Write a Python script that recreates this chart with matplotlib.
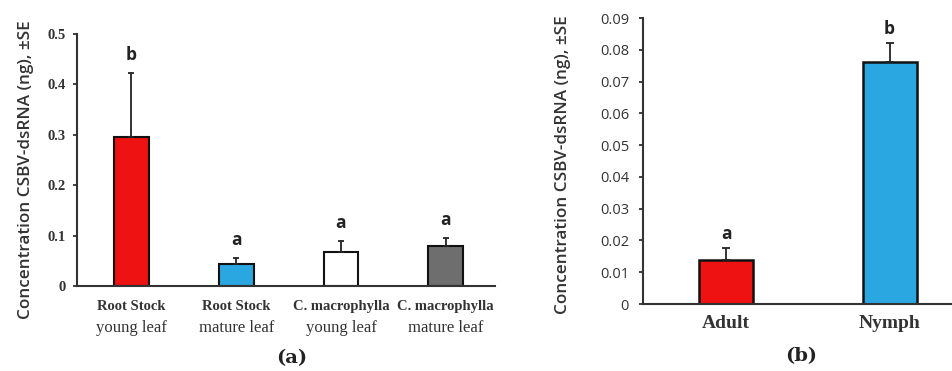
import matplotlib
matplotlib.use("Agg")
import matplotlib.pyplot as plt
import matplotlib.transforms as mtransforms

# ---- data ----
a_top = ["Root Stock", "Root Stock", "C. macrophylla", "C. macrophylla"]
a_bottom = ["young leaf", "mature leaf", "young leaf", "mature leaf"]
a_values = [0.296, 0.044, 0.067, 0.079]
a_errors = [0.127, 0.012, 0.022, 0.016]
a_letters = ["b", "a", "a", "a"]
a_colors = ["#ee1212", "#2aa7e0", "#ffffff", "#6e6e6e"]
a_yticks = [0, 0.1, 0.2, 0.3, 0.4, 0.5]
a_yticklabels = ["0", "0.1", "0.2", "0.3", "0.4", "0.5"]

b_categories = ["Adult", "Nymph"]
b_values = [0.0140, 0.0762]
b_errors = [0.0037, 0.0059]
b_letters = ["a", "b"]
b_colors = ["#ee1212", "#2aa7e0"]
b_yticks = [0, 0.01, 0.02, 0.03, 0.04, 0.05, 0.06, 0.07, 0.08, 0.09]
b_yticklabels = ["0", "0.01", "0.02", "0.03", "0.04", "0.05", "0.06", "0.07", "0.08", "0.09"]

ylabel = "Concentration CSBV-dsRNA (ng), \u00b1SE"

W, H = 953, 371
fig = plt.figure(figsize=(W / 100, H / 100), dpi=100)
fig.patch.set_facecolor("white")

def frac(x0, y0, x1, y1):
    return [x0 / W, 1 - y1 / H, (x1 - x0) / W, (y1 - y0) / H]

txt_col = "#333333"
edge = "#111111"

# ---- panel (a) ----
axa = fig.add_axes(frac(77, 34, 495, 286))
xa = list(range(len(a_values)))
axa.bar(xa, a_values, width=0.33, color=a_colors, edgecolor=edge, linewidth=1.5, zorder=2)
axa.errorbar(xa, a_values, yerr=[[0] * len(a_errors), a_errors], fmt="none",
             ecolor="#222222", elinewidth=1.3, capsize=2.5, capthick=1.3, zorder=3)
for x, v, e, l in zip(xa, a_values, a_errors, a_letters):
    axa.text(x, v + e + 0.018, l, ha="center", va="bottom", fontsize=12.5,
             fontweight="bold", family="Open Sans", color="#222222")
axa.set_xlim(-0.52, 3.47)
axa.set_ylim(0, 0.5)
axa.set_yticks(a_yticks)
axa.set_yticklabels(a_yticklabels, family="Liberation Serif", fontweight="bold",
                    fontsize=10.5, color=txt_col)
axa.set_xticks([])
trans = mtransforms.blended_transform_factory(axa.transData, axa.transAxes)
for x, t1, t2 in zip(xa, a_top, a_bottom):
    axa.text(x, -0.055, t1, transform=trans, ha="center", va="top", fontsize=10.5,
             fontweight="bold", family="Liberation Serif", color=txt_col)
    axa.text(x, -0.135, t2, transform=trans, ha="center", va="top", fontsize=12,
             family="Liberation Serif", color=txt_col)
axa.spines[["top", "right"]].set_visible(False)
for s in ["left", "bottom"]:
    axa.spines[s].set_color("#333333")
    axa.spines[s].set_linewidth(1.5)
axa.tick_params(axis="y", length=3, width=1.3, pad=5, color="#333333")
fig.text(26 / W, 1 - 170 / H, ylabel, rotation=90, ha="center", va="center",
         fontsize=12.3, family="Open Sans", fontweight="semibold", color=txt_col)
fig.text(292 / W, 1 - 358 / H, "(a)", ha="center", va="center", fontsize=14,
         fontweight="bold", family="DejaVu Serif", color="#222222")

# ---- panel (b) ----
axb = fig.add_axes(frac(643, 18, 953, 304))
xb = list(range(len(b_values)))
axb.bar(xb, b_values, width=0.33, color=b_colors, edgecolor=edge, linewidth=1.8, zorder=2)
axb.errorbar(xb, b_values, yerr=[[0] * len(b_errors), b_errors], fmt="none",
             ecolor="#222222", elinewidth=1.3, capsize=3, capthick=1.3, zorder=3)
for x, v, e, l in zip(xb, b_values, b_errors, b_letters):
    axb.text(x, v + e + 0.0015, l, ha="center", va="bottom", fontsize=12.5,
             fontweight="bold", family="Open Sans", color="#222222")
axb.set_xlim(-0.508, 1.388)
axb.set_ylim(0, 0.09)
axb.set_yticks(b_yticks)
axb.set_yticklabels(b_yticklabels, family="Open Sans", fontsize=10.5, color=txt_col)
axb.set_xticks(xb)
axb.set_xticklabels(b_categories, family="Liberation Serif", fontweight="bold",
                    fontsize=14, color=txt_col)
axb.tick_params(axis="x", length=0, pad=8)
axb.spines[["top", "right"]].set_visible(False)
for s in ["left", "bottom"]:
    axb.spines[s].set_color("#333333")
    axb.spines[s].set_linewidth(1.5)
axb.tick_params(axis="y", length=3, width=1.3, pad=7, color="#333333")
fig.text(563 / W, 1 - 165 / H, ylabel, rotation=90, ha="center", va="center",
         fontsize=12.3, family="Open Sans", fontweight="semibold", color=txt_col)
fig.text(801 / W, 1 - 356 / H, "(b)", ha="center", va="center", fontsize=14,
         fontweight="bold", family="DejaVu Serif", color="#222222")

fig.savefig("out.png", dpi=100, facecolor="white")
